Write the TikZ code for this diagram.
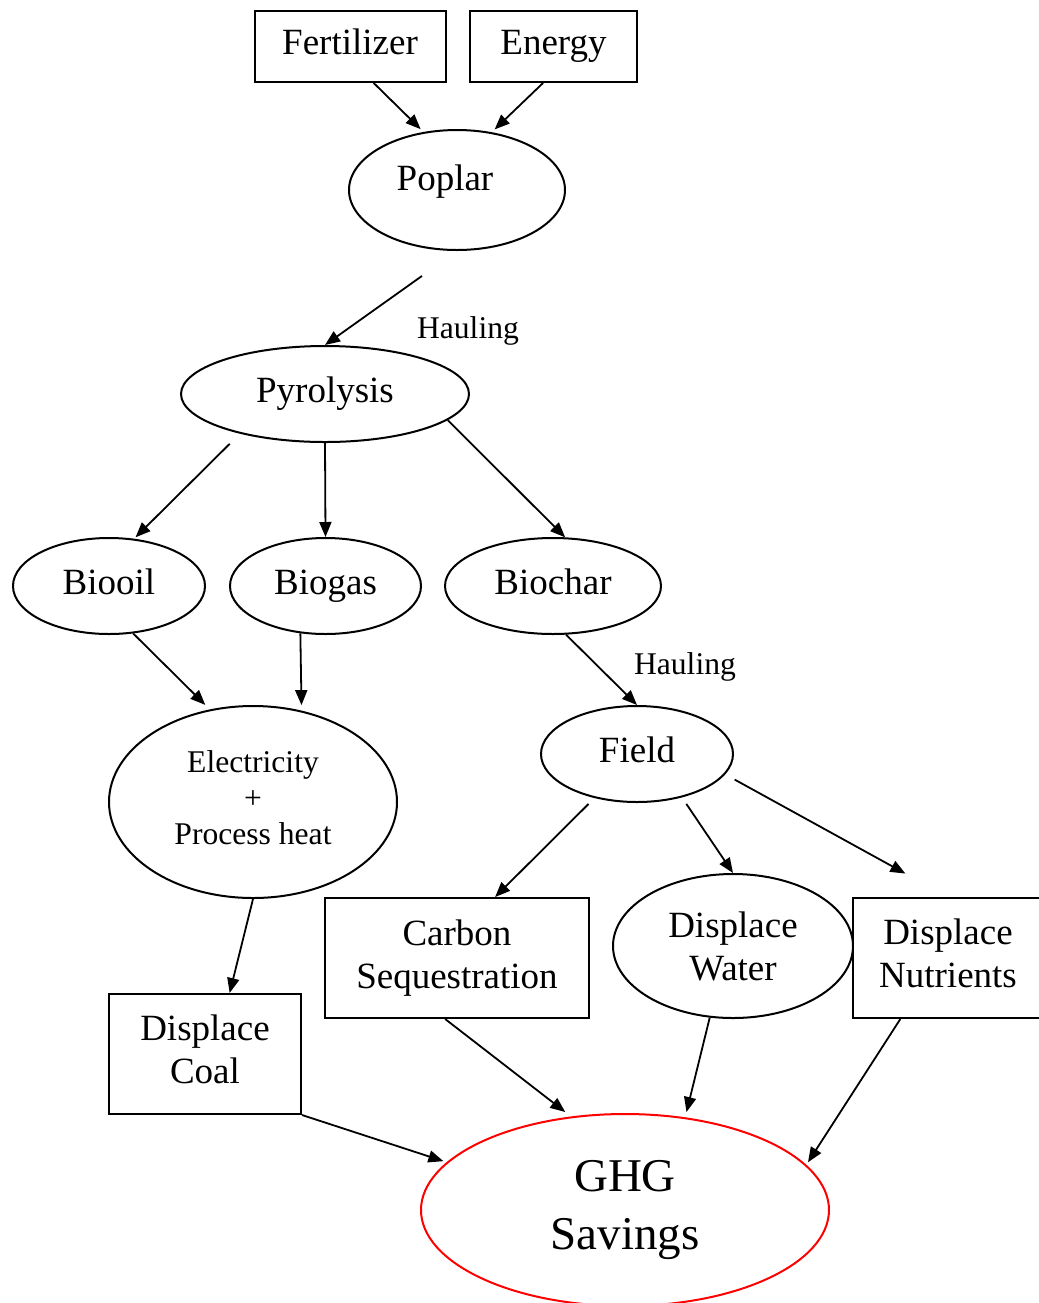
\documentclass[tikz,border=0pt]{standalone}
\usepackage{fontspec}
\setmainfont{Liberation Serif}
\usetikzlibrary{shapes.geometric,arrows.meta}

\begin{document}
\begin{tikzpicture}[x=0.5pt, y=-0.5pt,
    box/.style={draw, line width=1pt, inner sep=0pt, align=center, font=\fontsize{18.5}{21.5}\selectfont},
    oval/.style={draw, ellipse, line width=1pt, inner sep=0pt, align=center, font=\fontsize{18.5}{21.5}\selectfont},
    oneline/.style={text height=0.8em, text depth=0em},
    lastdeep/.style={text depth=0.44em},
    conn/.style={-{Triangle[length=7.5pt,width=6pt]}, line width=0.9pt},
    lbl/.style={font=\fontsize{15.8}{18}\selectfont}]
  \useasboundingbox (0,0) rectangle (1039,1303);

  % Inputs and feedstock
  \node[box, oneline, minimum width=95.5pt, minimum height=35.5pt] (fert) at (350,46.5) {Fertilizer};
  \node[box, oneline, minimum width=83.5pt, minimum height=35.5pt] (energy) at (553.5,46.5) {Energy};
  \node[oval, text height=0.7em, text depth=0.635em, minimum width=108pt, minimum height=60pt] (pop) at (457,190) {Poplar\hspace*{12pt}};
  \node[oval, oneline, minimum width=144pt, minimum height=48pt] (pyro) at (325,394) {Pyrolysis};
  \node[lbl] (haul1) at (468,331) {Hauling};

  % Products of pyrolysis
  \node[oval, oneline, minimum width=96pt, minimum height=48pt] (biooil) at (109,586) {Biooil};
  \node[oval, oneline, minimum width=95.5pt, minimum height=48pt] (biogas) at (325.5,586) {Biogas};
  \node[oval, oneline, minimum width=108pt, minimum height=48pt] (biochar) at (553,586) {Biochar};
  \node[oval, lbl, lastdeep, minimum width=144pt, minimum height=96pt] (elec) at (253,802) {Electricity\\+\\Process heat};
  \node[oval, oneline, minimum width=96pt, minimum height=48pt] (field) at (637,754) {Field};
  \node[lbl] (haul2) at (685,667) {Hauling};

  % Displacement and savings
  \node[box, lastdeep, minimum width=96pt, minimum height=60pt] (coal) at (205,1054) {Displace\\Coal};
  \node[box, minimum width=132pt, minimum height=60pt] (carbon) at (457,958) {Carbon\\Sequestration};
  \node[oval, minimum width=120pt, minimum height=72pt] (water) at (733,946) {Displace\\Water};
  \node[box, lastdeep, minimum width=95pt, minimum height=60pt] (nutr) at (948,958) {Displace\\Nutrients};
  \node[oval, draw=red, minimum width=204pt, minimum height=96pt,
        font=\fontsize{23.5}{29}\selectfont] (ghg) at (625,1210) {GHG\\Savings};

  % Connectors
  \draw[conn, shorten >=2pt] (fert.-57) -- (pop.120);
  \draw[conn, shorten >=2pt] (energy.-106) -- (pop.59);
  \draw[conn, shorten <=21.5pt] (pop.south) -- (pyro.north);
  \draw[conn, shorten <=7.2pt, shorten >=1pt] (pyro.-155) -- (biooil.62);
  \draw[conn] (pyro.south) -- (biogas.north);
  \draw[conn] (pyro.-12) -- (biochar.76);
  \draw[conn, shorten >=3.2pt] (biooil.-63) -- (elec.115);
  \draw[conn, shorten >=2.75pt] (biogas.-118) -- (elec.62);
  \draw[conn] (biochar.-75) -- (field.north);
  \draw[conn, shorten <=4.2pt] (field.-134) -- (carbon.58);
  \draw[conn, shorten <=3.9pt] (field.-44) -- (water.north);
  \draw[conn, shorten <=5.4pt, shorten >=24.3pt] (field.-13) -- (nutr.north);
  \draw[conn] (elec.south) -- (coal.68);
  \draw[conn, shorten >=1.7pt] (coal.south east) -- (ghg.165);
  \draw[conn, shorten >=3.6pt] (carbon.-101) -- (ghg.120);
  \draw[conn, shorten >=2.7pt] (water.-108) -- (ghg.57);
  \draw[conn, shorten >=1.5pt] (nutr.-128) -- (ghg.14);
\end{tikzpicture}
\end{document}
